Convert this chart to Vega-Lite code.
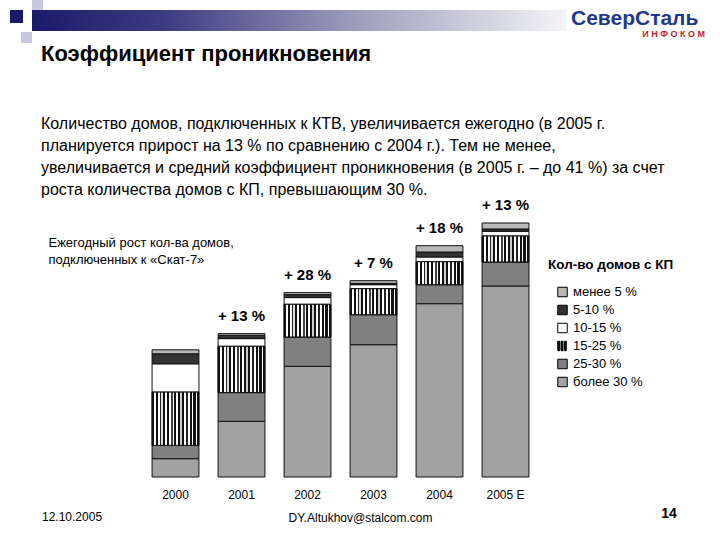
{
  "$schema": "https://vega.github.io/schema/vega-lite/v6.json",
  "width": 720,
  "height": 277,
  "autosize": {"type": "none"},
  "padding": {"left": 0, "right": 0, "top": 200, "bottom": 63},
  "background": "white",
  "config": {"font": "Liberation Sans", "view": {"stroke": null}},
  "title": {
    "text": "Коэффициент проникновения",
    "subtitle": [
      "Количество домов, подключенных к КТВ, увеличивается ежегодно (в 2005 г.",
      "планируется прирост на 13 % по сравнению с 2004 г.). Тем не менее,",
      "увеличивается и средний коэффициент проникновения (в 2005 г. – до 41 %) за счет",
      "роста количества домов с КП, превышающим 30 %."
    ],
    "anchor": "start",
    "frame": "group",
    "dx": 41,
    "fontSize": 22,
    "fontWeight": "bold",
    "color": "#000000",
    "subtitleFontSize": 16,
    "subtitleColor": "#000000",
    "subtitleLineHeight": 22,
    "subtitlePadding": 50,
    "offset": -198.5
  },
  "datasets": {
    "segments": [
      {"year": "2000", "cat": "более 30 %", "value": 18.3},
      {"year": "2000", "cat": "25-30 %", "value": 13.3},
      {"year": "2000", "cat": "15-25 %", "value": 53.3},
      {"year": "2000", "cat": "10-15 %", "value": 28.3},
      {"year": "2000", "cat": "5-10 %", "value": 10},
      {"year": "2000", "cat": "менее 5 %", "value": 4},
      {"year": "2001", "cat": "более 30 %", "value": 55.7},
      {"year": "2001", "cat": "25-30 %", "value": 28.7},
      {"year": "2001", "cat": "15-25 %", "value": 46.3},
      {"year": "2001", "cat": "10-15 %", "value": 7.7},
      {"year": "2001", "cat": "5-10 %", "value": 3.3},
      {"year": "2001", "cat": "менее 5 %", "value": 1.7},
      {"year": "2002", "cat": "более 30 %", "value": 110.7},
      {"year": "2002", "cat": "25-30 %", "value": 29.3},
      {"year": "2002", "cat": "15-25 %", "value": 32.7},
      {"year": "2002", "cat": "10-15 %", "value": 6.7},
      {"year": "2002", "cat": "5-10 %", "value": 3},
      {"year": "2002", "cat": "менее 5 %", "value": 2},
      {"year": "2003", "cat": "более 30 %", "value": 132.3},
      {"year": "2003", "cat": "25-30 %", "value": 30},
      {"year": "2003", "cat": "15-25 %", "value": 26},
      {"year": "2003", "cat": "10-15 %", "value": 4},
      {"year": "2003", "cat": "5-10 %", "value": 1.3},
      {"year": "2003", "cat": "менее 5 %", "value": 2.7},
      {"year": "2004", "cat": "более 30 %", "value": 173.3},
      {"year": "2004", "cat": "25-30 %", "value": 19},
      {"year": "2004", "cat": "15-25 %", "value": 23},
      {"year": "2004", "cat": "10-15 %", "value": 4.7},
      {"year": "2004", "cat": "5-10 %", "value": 5},
      {"year": "2004", "cat": "менее 5 %", "value": 6.3},
      {"year": "2005 E", "cat": "более 30 %", "value": 191},
      {"year": "2005 E", "cat": "25-30 %", "value": 24},
      {"year": "2005 E", "cat": "15-25 %", "value": 26},
      {"year": "2005 E", "cat": "10-15 %", "value": 4.7},
      {"year": "2005 E", "cat": "5-10 %", "value": 2.3},
      {"year": "2005 E", "cat": "менее 5 %", "value": 6}
    ],
    "growth": [
      {"year": "2001", "label": "+ 13 %"},
      {"year": "2002", "label": "+ 28 %"},
      {"year": "2003", "label": "+ 7 %"},
      {"year": "2004", "label": "+ 18 %"},
      {"year": "2005 E", "label": "+ 13 %"}
    ]
  },
  "layer": [
    {
      "data": {"name": "segments"},
      "transform": [
        {"calculate": "indexof(['более 30 %','25-30 %','15-25 %','10-15 %','5-10 %','менее 5 %'], datum.cat)", "as": "ord"},
        {"stack": "value", "groupby": ["year"], "sort": [{"field": "ord", "order": "ascending"}], "as": ["v0", "v1"]}
      ],
      "encoding": {
        "x": {
          "field": "year",
          "type": "nominal",
          "scale": {"range": [142.5, 538.5], "paddingInner": 0.29, "paddingOuter": 0.145},
          "axis": {
            "title": "DY.Altukhov@stalcom.com",
            "titleX": 360,
            "titleY": 40,
            "titleAlign": "center",
            "titleBaseline": "middle",
            "titleFontSize": 12,
            "titleFontWeight": "normal",
            "titleColor": "#000000",
            "domain": false,
            "ticks": false,
            "grid": false,
            "labelAngle": 0,
            "labelPadding": 12,
            "labelFontSize": 12,
            "labelColor": "#000000"
          }
        },
        "y": {
          "field": "v1",
          "type": "quantitative",
          "scale": {"domain": [0, 277], "nice": false},
          "axis": {
            "title": ["Ежегодный рост кол-ва домов,", "подключенных к «Скат-7»"],
            "titleAngle": 0,
            "titleAlign": "left",
            "titleBaseline": "top",
            "titleX": 48,
            "titleY": 36,
            "titleFontSize": 13,
            "titleFontWeight": "normal",
            "titleColor": "#000000",
            "titleLineHeight": 17,
            "domain": false,
            "ticks": false,
            "labels": false,
            "grid": false
          }
        }
      },
      "layer": [
        {
          "mark": {"type": "bar", "stroke": "#111111", "strokeWidth": 1},
          "encoding": {
            "y2": {"field": "v0"},
            "color": {
              "field": "cat",
              "type": "nominal",
              "scale": {
                "domain": ["менее 5 %", "5-10 %", "10-15 %", "15-25 %", "25-30 %", "более 30 %"],
                "range": ["#b8b8b8", "#333333", "#ffffff", "#111111", "#808080", "#a2a2a2"]
              },
              "legend": {
                "orient": "none",
                "legendX": 548,
                "legendY": 58,
                "title": "Кол-во домов с КП",
                "titleFontSize": 13.5,
                "titleFontWeight": "bold",
                "titleColor": "#000000",
                "titlePadding": 14,
                "symbolType": "square",
                "symbolSize": 90,
                "symbolOffset": 8,
                "symbolStrokeColor": "#000000",
                "symbolStrokeWidth": 1,
                "labelFontSize": 13,
                "labelColor": "#000000",
                "labelOffset": 4,
                "rowPadding": 3,
                "encode": {
                  "symbols": {
                    "update": {
                      "stroke": {"value": "#000000"},
                      "strokeWidth": {"value": 1},
                      "shape": [
                        {"test": "datum.value === '15-25 %'", "value": "M-1,-1H-0.6V1H-1Z M-0.3,-1H0.1V1H-0.3Z M0.4,-1H0.8V1H0.4Z"},
                        {"value": "square"}
                      ]
                    }
                  }
                }
              }
            }
          }
        },
        {
          "transform": [{"filter": "datum.cat === '15-25 %'"}],
          "mark": {
            "type": "bar",
            "stroke": "#111111",
            "strokeWidth": 1,
            "fill": {"gradient": "linear", "x1": 0, "y1": 0, "x2": 1, "y2": 0, "stops": [
              {"offset": 0.0, "color": "#111111"}, {"offset": 0.05, "color": "#111111"},
              {"offset": 0.05, "color": "#ffffff"}, {"offset": 0.09, "color": "#ffffff"},
              {"offset": 0.09, "color": "#111111"}, {"offset": 0.13, "color": "#111111"},
              {"offset": 0.13, "color": "#ffffff"}, {"offset": 0.16, "color": "#ffffff"},
              {"offset": 0.16, "color": "#222222"}, {"offset": 0.2, "color": "#222222"},
              {"offset": 0.2, "color": "#dddddd"}, {"offset": 0.24, "color": "#dddddd"},
              {"offset": 0.24, "color": "#111111"}, {"offset": 0.28, "color": "#111111"},
              {"offset": 0.28, "color": "#ffffff"}, {"offset": 0.31, "color": "#ffffff"},
              {"offset": 0.31, "color": "#111111"}, {"offset": 0.36, "color": "#111111"},
              {"offset": 0.36, "color": "#ffffff"}, {"offset": 0.4, "color": "#ffffff"},
              {"offset": 0.4, "color": "#444444"}, {"offset": 0.44, "color": "#444444"},
              {"offset": 0.44, "color": "#ffffff"}, {"offset": 0.47, "color": "#ffffff"},
              {"offset": 0.47, "color": "#111111"}, {"offset": 0.52, "color": "#111111"},
              {"offset": 0.52, "color": "#ffffff"}, {"offset": 0.56, "color": "#ffffff"},
              {"offset": 0.56, "color": "#111111"}, {"offset": 0.6, "color": "#111111"},
              {"offset": 0.6, "color": "#cccccc"}, {"offset": 0.64, "color": "#cccccc"},
              {"offset": 0.64, "color": "#111111"}, {"offset": 0.68, "color": "#111111"},
              {"offset": 0.68, "color": "#ffffff"}, {"offset": 0.72, "color": "#ffffff"},
              {"offset": 0.72, "color": "#222222"}, {"offset": 0.76, "color": "#222222"},
              {"offset": 0.76, "color": "#ffffff"}, {"offset": 0.8, "color": "#ffffff"},
              {"offset": 0.8, "color": "#111111"}, {"offset": 0.85, "color": "#111111"},
              {"offset": 0.85, "color": "#ffffff"}, {"offset": 0.88, "color": "#ffffff"},
              {"offset": 0.88, "color": "#111111"}, {"offset": 0.93, "color": "#111111"},
              {"offset": 0.93, "color": "#ffffff"}, {"offset": 0.96, "color": "#ffffff"},
              {"offset": 0.96, "color": "#111111"}, {"offset": 1.0, "color": "#111111"}
            ]}
          },
          "encoding": {"y2": {"field": "v0"}}
        },
        {
          "transform": [
            {"aggregate": [{"op": "max", "field": "v1", "as": "v1"}], "groupby": ["year"]},
            {"lookup": "year", "from": {"data": {"name": "growth"}, "key": "year", "fields": ["label"]}},
            {"filter": "datum.label != null"}
          ],
          "mark": {"type": "text", "fontSize": 15, "fontWeight": "bold", "baseline": "middle", "dy": -18, "color": "#000000"},
          "encoding": {"text": {"field": "label"}}
        }
      ]
    },
    {
      "data": {"values": [{}]},
      "mark": {"type": "rect", "x": 32, "x2": 566, "y": -190, "y2": -169,
        "fill": {"gradient": "linear", "x1": 0, "y1": 0, "x2": 1, "y2": 0, "stops": [
          {"offset": 0, "color": "#1a1a6a"}, {"offset": 0.25, "color": "#3c3c82"},
          {"offset": 0.6, "color": "#9c9cba"}, {"offset": 1, "color": "#f4f4f7"}]}},
      "encoding": {}
    },
    {
      "data": {"values": [{}]},
      "mark": {"type": "rect", "x": 10, "x2": 23, "y": -190, "y2": -177, "fill": "#1a1a6a"},
      "encoding": {}
    },
    {
      "data": {"values": [{}]},
      "mark": {"type": "rect", "x": 32, "x2": 43, "y": -200, "y2": -190, "fill": "#c8c8e4"},
      "encoding": {}
    },
    {
      "data": {"values": [{}]},
      "mark": {"type": "rect", "x": 21, "x2": 32, "y": -168, "y2": -157, "fill": "#c8c8e4"},
      "encoding": {}
    },
    {
      "data": {"values": [{"t": "СеверСталь"}]},
      "mark": {"type": "text", "x": 571, "y": -181, "align": "left", "baseline": "middle", "fontSize": 21, "fontWeight": "bold", "color": "#1f3a8c"},
      "encoding": {"text": {"field": "t"}}
    },
    {
      "data": {"values": [{"t": "И Н Ф О К О М"}]},
      "mark": {"type": "text", "x": 705, "y": -166, "align": "right", "baseline": "middle", "fontSize": 9, "fontWeight": "bold", "color": "#cc2222"},
      "encoding": {"text": {"field": "t"}}
    },
    {
      "data": {"values": [{"t": "12.10.2005"}]},
      "mark": {"type": "text", "x": 42, "y": 317, "align": "left", "baseline": "middle", "fontSize": 12, "color": "#000000"},
      "encoding": {"text": {"field": "t"}}
    },
    {
      "data": {"values": [{"t": "14"}]},
      "mark": {"type": "text", "x": 669, "y": 314, "align": "center", "baseline": "middle", "fontSize": 14, "fontWeight": "bold", "color": "#000000"},
      "encoding": {"text": {"field": "t"}}
    }
  ]
}
